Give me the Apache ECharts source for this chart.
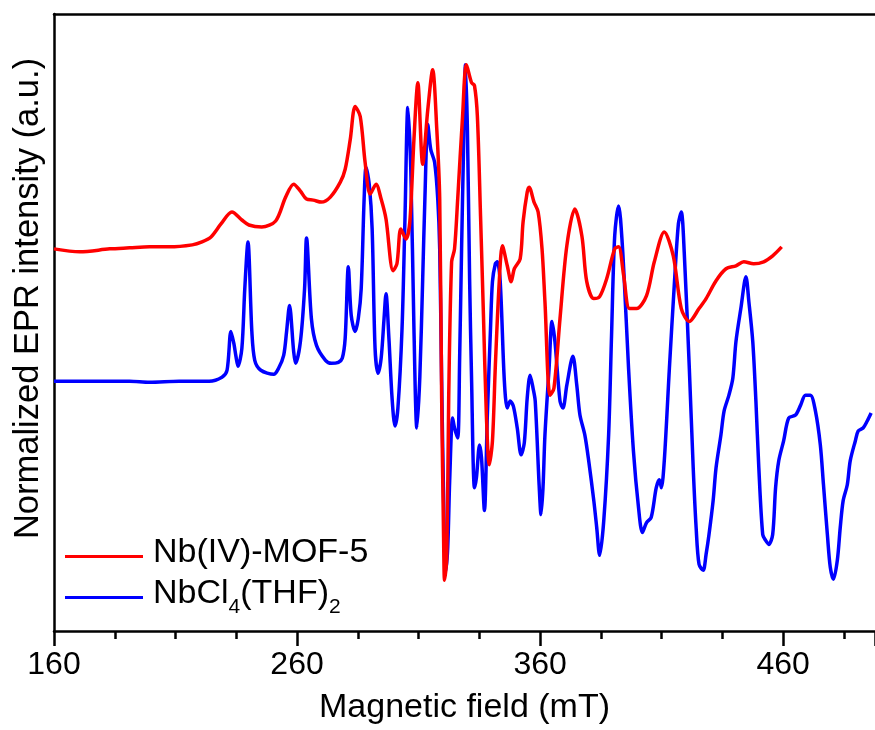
<!DOCTYPE html>
<html>
<head>
<meta charset="utf-8">
<script src="https://cdn.jsdelivr.net/npm/echarts@6/dist/echarts.min.js"></script>
<style>
html,body{margin:0;padding:0;background:#fff;}
#chart{width:875px;height:730px;}
</style>
</head>
<body>
<div id="chart"></div>
<script>
// Magnetic field (mT) and normalized intensity (a.u.) for Nb(IV)-MOF-5
const redField = [160,170.6,182.9,191.1,199.3,207.4,216.9,220.9,224.6,228.7,233.2,237.3,240.2,245.5,251.2,255.3,258.6,261.4,263.9,266.7,270.0,273.7,277.8,279.8,281.9,283.9,286.0,288.0,290.1,292.5,294.6,296.6,299.5,301.1,302.7,304.8,306.4,308.1,309.7,311.7,313.8,315.8,317.5,318.7,319.5,320.3,320.7,321.6,322.4,323.6,324.8,326.1,328.1,329.7,331.8,333.0,334.2,335.5,336.7,337.9,339.1,340.4,341.6,343.2,344.5,346.5,348.1,349.4,351.8,353.0,354.7,355.5,357.5,359.2,360.8,362.0,364.1,365.7,368.2,371.0,374.3,377.2,379.2,382.1,384.5,387.4,390.7,392.3,394.4,396.8,399.7,403.8,407.0,411.1,414.8,418.1,421.4,425.4,428.3,432.4,436.5,440.6,443.8,447.9,452.0,455.7,459.4];
const redIntensity = [3.84,3.81,3.84,3.85,3.86,3.86,3.88,3.91,3.96,4.09,4.21,4.13,4.08,4.06,4.12,4.36,4.49,4.42,4.34,4.33,4.31,4.36,4.51,4.64,4.94,5.27,5.17,4.71,4.39,4.49,4.34,4.14,3.62,3.69,4.04,3.94,4.11,4.94,5.51,4.69,5.24,5.64,5.04,4.34,2.34,0.94,0.51,0.74,2.34,3.71,3.84,4.34,5.17,5.69,5.51,5.48,5.17,4.17,3.17,2.17,1.67,1.91,2.67,3.51,3.87,3.67,3.51,3.64,3.74,4.11,4.41,4.46,4.31,4.21,3.84,3.31,2.37,2.44,3.14,3.87,4.24,3.97,3.51,3.34,3.36,3.54,3.84,3.86,3.57,3.24,3.24,3.37,3.71,4.01,3.77,3.24,3.11,3.24,3.34,3.52,3.64,3.67,3.71,3.69,3.71,3.77,3.86];

// Magnetic field (mT) and normalized intensity (a.u.) for NbCl4(THF)2
const blueField = [160,177.6,191.1,199.3,211.5,223.8,229.1,231.2,232.8,234.0,234.8,235.7,237.3,238.5,239.8,241.4,242.6,245.1,250.4,252.4,254.5,255.7,256.9,258.6,259.4,261.4,263.1,263.9,265.9,268.0,271.7,274.1,277.0,278.6,279.8,281.1,282.3,283.9,285.2,286.4,287.6,288.4,289.7,290.9,292.1,293.3,294.6,295.8,296.6,297.8,299.1,300.3,301.5,303.2,304.4,305.6,306.8,308.1,309.3,310.5,311.7,312.6,313.8,315.0,316.6,317.9,318.7,319.5,320.3,321.1,322.0,322.8,324.0,324.8,326.1,326.9,327.7,328.5,329.3,330.1,331.0,331.8,333.0,333.8,335.1,335.9,337.1,338.3,339.6,340.4,341.6,342.4,343.6,345.3,346.5,347.7,349.0,350.6,352.2,353.5,354.7,355.9,357.1,358.0,359.6,360.4,361.2,362.0,363.7,364.9,366.1,368.2,369.4,371.0,373.5,375.1,376.4,378.4,380.0,382.1,383.3,384.5,386.2,388.2,389.4,390.7,392.3,393.1,394.4,396.4,398.4,400.5,402.1,403.8,405.7,407.8,409.1,409.9,411.1,413.2,415.2,416.9,418.1,419.3,421.4,423.0,424.2,425.4,427.1,428.3,429.5,431.2,432.4,434.4,435.7,437.7,439.3,440.6,442.6,444.7,445.9,447.5,448.8,450.0,451.6,452.8,454.1,455.7,456.9,458.2,460.2,462.3,465.1,467.2,469.2,471.2,473.3,475.3,476.6,478.2,479.4,480.7,482.3,483.5,484.7,486.4,487.6,489.7,490.9,492.9,494.6,496.2];
const blueIntensity = [2.51,2.51,2.51,2.50,2.51,2.51,2.55,2.62,3.01,2.89,2.77,2.66,2.84,3.44,3.91,3.01,2.72,2.62,2.58,2.64,2.77,3.01,3.27,2.81,2.69,2.91,3.44,3.95,3.14,2.87,2.72,2.69,2.70,2.74,2.94,3.66,3.17,3.01,3.14,3.44,4.34,4.66,4.49,4.04,2.84,2.59,2.74,3.14,3.39,2.94,2.34,2.06,2.24,3.04,4.14,5.26,4.64,3.04,2.04,2.54,3.54,4.34,5.09,4.84,4.71,4.34,3.84,2.51,1.34,0.59,0.84,1.51,2.14,2.04,1.94,2.74,3.84,4.84,5.69,5.04,3.54,2.54,1.44,1.54,1.87,1.74,1.21,2.17,3.04,3.51,3.69,3.71,3.51,2.51,2.24,2.31,2.26,2.04,1.77,1.89,2.34,2.57,2.44,2.31,1.47,1.17,1.44,1.97,2.64,3.11,2.91,2.31,2.24,2.47,2.76,2.47,2.17,1.97,1.71,1.31,1.04,0.76,1.11,1.97,2.97,3.97,4.27,4.14,3.64,2.64,1.81,1.24,0.99,1.09,1.14,1.44,1.52,1.44,1.71,2.64,3.47,4.09,4.21,3.81,2.64,1.64,1.04,0.67,0.61,0.77,0.97,1.31,1.64,1.97,2.21,2.37,2.54,2.91,3.24,3.56,3.31,2.91,2.31,1.64,0.97,0.91,0.87,0.97,1.44,1.71,1.91,2.14,2.17,2.27,2.37,2.37,2.21,1.87,1.47,0.97,0.64,0.52,0.71,1.04,1.31,1.47,1.71,1.91,2.01,2.04,2.11,2.19];

const seriesNames = ['Nb(IV)-MOF-5', 'NbCl4(THF)2'];
const xTickValues = [160, 260, 360, 460];

const zip = (xs, ys) => xs.map((x, i) => [x, ys[i]]);
const FONT = '"Liberation Sans", Arial, sans-serif';

const chart = echarts.init(document.getElementById('chart'));
const xMin = xTickValues[0];
const xStep = xTickValues[1] - xTickValues[0];
const xMax = 497.8;

chart.setOption({
  animation: false,
  backgroundColor: '#ffffff',
  grid: {left: 54, right: -5, top: 14, bottom: 96, containLabel: false},
  xAxis: [{
    type: 'value', min: xMin, max: xMax, interval: xStep,
    name: 'Magnetic field (mT)', nameLocation: 'middle', nameGap: 60,
    nameTextStyle: {fontFamily: FONT, fontSize: 34, color: '#000'},
    axisLine: {show: true, onZero: false, lineStyle: {color: '#000', width: 2.5}},
    axisTick: {show: true, inside: false, length: 15, lineStyle: {color: '#000', width: 2.5}},
    minorTick: {show: true, splitNumber: 4, length: 8, lineStyle: {color: '#000', width: 2.5}},
    axisLabel: {fontFamily: FONT, fontSize: 32, color: '#000', margin: 18,
      showMaxLabel: false,
      formatter: v => xTickValues.indexOf(v) >= 0 ? String(v) : ''},
    splitLine: {show: false}
  }, {
    type: 'value', position: 'top', min: xMin, max: xMax,
    axisLine: {show: true, onZero: false, lineStyle: {color: '#000', width: 2.5}},
    axisTick: {show: false}, axisLabel: {show: false}, splitLine: {show: false}
  }],
  yAxis: {
    type: 'value', min: 0, max: 6.2,
    name: 'Normalized EPR intensity (a.u.)', nameLocation: 'middle', nameGap: 8,
    nameTextStyle: {fontFamily: FONT, fontSize: 34.5, color: '#000', padding: [0, 0, 0, 48]},
    axisLine: {show: true, onZero: false, lineStyle: {color: '#000', width: 2.5}},
    axisTick: {show: false}, axisLabel: {show: false}, splitLine: {show: false}
  },
  legend: {
    orient: 'vertical', left: 65, top: 536, itemGap: 7, padding: 0,
    itemWidth: 78, itemHeight: 3, icon: 'rect',
    data: seriesNames,
    textStyle: {
      fontFamily: FONT, fontSize: 34, color: '#000',
      rich: {
        f: {fontFamily: FONT, fontSize: 34, color: '#000', verticalAlign: 'bottom', padding: [0, 0, 7, 5]},
        n: {fontFamily: FONT, fontSize: 34, color: '#000', verticalAlign: 'bottom', padding: [0, 0, 7, 0]},
        s: {fontFamily: FONT, fontSize: 21, color: '#000', verticalAlign: 'bottom', padding: [0, 0, 0, 0]}
      }
    },
    formatter: name => name === 'NbCl4(THF)2'
      ? '{f|NbCl}{s|4}{n|(THF)}{s|2}'
      : '{f|' + name + '}'
  },
  series: [{
    name: seriesNames[0], type: 'line', data: zip(redField, redIntensity),
    showSymbol: false, symbol: 'none', smooth: 0.3, xAxisIndex: 0,
    lineStyle: {color: '#ff0000', width: 3.5}, itemStyle: {color: '#ff0000'}, z: 3
  }, {
    name: seriesNames[1], type: 'line', data: zip(blueField, blueIntensity),
    showSymbol: false, symbol: 'none', smooth: 0.3, xAxisIndex: 0,
    lineStyle: {color: '#0000ff', width: 3.5}, itemStyle: {color: '#0000ff'}, z: 2
  }]
});
</script>
</body>
</html>
